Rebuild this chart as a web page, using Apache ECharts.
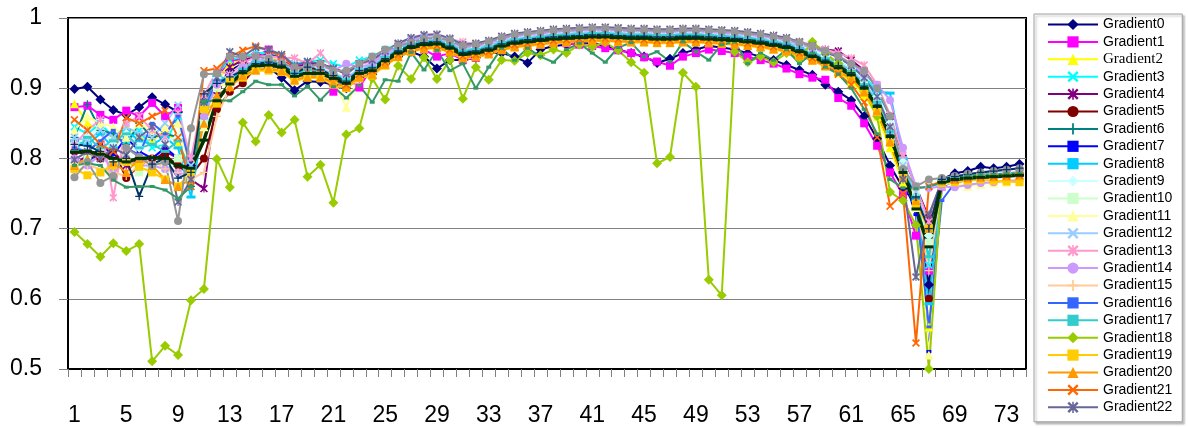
<!DOCTYPE html>
<html>
<head>
<meta charset="utf-8">
<script src="https://cdn.jsdelivr.net/npm/echarts@6/dist/echarts.min.js"></script>
<style>
  html, body { margin: 0; padding: 0; background: #fff; }
  #chart { width: 1188px; height: 428px; }
</style>
</head>
<body>
<div id="chart"></div>
<script>
// x categories 1..74
var categories = [];
for (var i = 1; i <= 74; i++) categories.push(String(i));

var yTicks = [0.5, 0.6, 0.7, 0.8, 0.9, 1];

var gradient0 = [0.899,0.902,0.884,0.869,0.862,0.873,0.887,0.877,0.866,0.790,0.870,0.900,
  0.925,0.935,0.935,0.930,0.915,0.897,0.910,0.909,0.905,0.900,0.915,0.920,0.935,0.945,0.952,0.945,0.928,0.940,
  0.940,0.943,0.950,0.950,0.945,0.936,0.955,0.960,0.962,0.965,0.964,0.960,0.955,0.950,0.945,0.936,0.942,0.950,
  0.955,0.960,0.958,0.955,0.950,0.945,0.940,0.933,0.926,0.919,0.905,0.895,
  0.883,0.860,0.828,0.790,0.758,0.735,0.620,0.770,0.779,0.782,0.788,0.786,0.788,0.792];
var gradient1 = [0.873,0.875,0.862,0.855,0.868,0.860,0.879,0.860,0.872,0.780,0.850,0.915,
  0.940,0.940,0.945,0.955,0.940,0.930,0.930,0.928,0.895,0.915,0.901,0.930,0.940,0.955,0.960,0.955,0.945,0.950,
  0.940,0.943,0.952,0.958,0.960,0.960,0.965,0.966,0.964,0.962,0.960,0.957,0.954,0.950,0.944,0.938,0.932,0.945,
  0.950,0.955,0.953,0.950,0.945,0.940,0.935,0.928,0.920,0.915,0.912,0.886,
  0.875,0.850,0.818,0.780,0.748,0.690,0.640,0.760,0.770,0.773,0.775,0.777,0.779,0.780];
var gradient2 = [0.878,0.850,0.840,0.830,0.845,0.830,0.825,0.840,0.820,0.780,0.860,0.910,
  0.935,0.940,0.945,0.945,0.940,0.925,0.930,0.930,0.920,0.910,0.925,0.930,0.945,0.955,0.962,0.965,0.965,0.960,
  0.952,0.955,0.958,0.963,0.967,0.968,0.970,0.972,0.973,0.975,0.976,0.976,0.975,0.974,0.973,0.972,0.972,0.973,
  0.973,0.972,0.971,0.970,0.968,0.966,0.962,0.958,0.950,0.942,0.932,0.922,
  0.910,0.890,0.860,0.815,0.765,0.740,0.560,0.765,0.770,0.772,0.774,0.775,0.776,0.777];
var gradient3 = [0.845,0.835,0.850,0.830,0.825,0.840,0.815,0.820,0.860,0.790,0.880,0.920,
  0.940,0.945,0.950,0.950,0.945,0.935,0.938,0.940,0.935,0.930,0.940,0.945,0.955,0.963,0.970,0.972,0.972,0.968,
  0.962,0.963,0.966,0.970,0.974,0.976,0.977,0.978,0.979,0.980,0.980,0.980,0.979,0.978,0.977,0.977,0.977,0.978,
  0.978,0.977,0.976,0.975,0.974,0.972,0.970,0.967,0.963,0.958,0.952,0.944,
  0.934,0.918,0.895,0.860,0.800,0.760,0.648,0.770,0.772,0.775,0.776,0.777,0.778,0.779];
var gradient4 = [0.790,0.805,0.800,0.810,0.790,0.800,0.795,0.810,0.800,0.770,0.757,0.890,
  0.930,0.940,0.945,0.948,0.943,0.930,0.935,0.935,0.928,0.922,0.935,0.940,0.952,0.960,0.967,0.970,0.970,0.966,
  0.958,0.960,0.963,0.968,0.972,0.974,0.976,0.977,0.978,0.979,0.980,0.980,0.979,0.978,0.978,0.977,0.977,0.978,
  0.978,0.978,0.977,0.976,0.975,0.973,0.971,0.968,0.965,0.960,0.955,0.953,
  0.940,0.925,0.900,0.860,0.800,0.760,0.715,0.768,0.772,0.774,0.776,0.777,0.779,0.780];
var gradient5 = [0.810,0.805,0.800,0.812,0.772,0.790,0.800,0.805,0.790,0.775,0.800,0.870,
  0.895,0.907,0.930,0.932,0.928,0.915,0.918,0.920,0.912,0.905,0.918,0.923,0.937,0.948,0.956,0.960,0.960,0.955,
  0.946,0.948,0.952,0.958,0.962,0.964,0.966,0.968,0.969,0.970,0.971,0.971,0.970,0.969,0.969,0.968,0.968,0.969,
  0.969,0.968,0.967,0.966,0.964,0.962,0.959,0.955,0.949,0.942,0.934,0.925,
  0.914,0.895,0.866,0.822,0.772,0.745,0.600,0.768,0.771,0.773,0.775,0.776,0.777,0.778];
var gradient6 = [0.830,0.877,0.840,0.835,0.820,0.850,0.830,0.835,0.830,0.760,0.880,0.915,
  0.912,0.925,0.938,0.936,0.934,0.920,0.926,0.924,0.918,0.912,0.925,0.930,0.942,0.955,0.962,0.966,0.966,0.962,
  0.952,0.955,0.958,0.964,0.968,0.970,0.972,0.974,0.975,0.976,0.977,0.977,0.976,0.975,0.975,0.974,0.974,0.975,
  0.975,0.974,0.973,0.972,0.970,0.968,0.965,0.962,0.956,0.949,0.941,0.933,
  0.922,0.903,0.876,0.832,0.780,0.750,0.700,0.770,0.773,0.775,0.776,0.777,0.778,0.779];
var gradient7 = [0.800,0.790,0.820,0.805,0.830,0.810,0.800,0.815,0.800,0.770,0.860,0.905,
  0.908,0.920,0.934,0.931,0.932,0.915,0.923,0.919,0.916,0.905,0.923,0.924,0.941,0.949,0.960,0.961,0.964,0.956,
  0.950,0.949,0.956,0.959,0.966,0.965,0.970,0.969,0.973,0.971,0.975,0.972,0.974,0.970,0.973,0.969,0.972,0.970,
  0.973,0.969,0.971,0.967,0.968,0.963,0.963,0.957,0.954,0.944,0.939,0.928,
  0.918,0.898,0.870,0.826,0.775,0.720,0.525,0.760,0.768,0.772,0.774,0.775,0.776,0.777];
var gradient8 = [0.825,0.820,0.835,0.815,0.840,0.825,0.820,0.830,0.815,0.745,0.855,0.910,
  0.915,0.928,0.938,0.940,0.936,0.924,0.928,0.927,0.921,0.914,0.928,0.932,0.946,0.957,0.965,0.968,0.969,0.964,
  0.955,0.957,0.960,0.966,0.970,0.972,0.974,0.976,0.977,0.978,0.979,0.979,0.978,0.977,0.977,0.976,0.976,0.977,
  0.977,0.976,0.975,0.974,0.972,0.970,0.967,0.964,0.958,0.952,0.945,0.938,
  0.928,0.910,0.895,0.893,0.800,0.740,0.593,0.770,0.772,0.774,0.775,0.776,0.777,0.778];
var gradient9 = [0.820,0.830,0.845,0.820,0.835,0.815,0.840,0.825,0.830,0.775,0.870,0.915,
  0.916,0.930,0.940,0.941,0.938,0.925,0.930,0.928,0.922,0.915,0.929,0.933,0.947,0.958,0.966,0.969,0.970,0.965,
  0.956,0.958,0.962,0.968,0.972,0.974,0.976,0.978,0.979,0.980,0.981,0.981,0.980,0.979,0.979,0.978,0.978,0.979,
  0.979,0.978,0.977,0.976,0.974,0.972,0.969,0.966,0.960,0.954,0.946,0.938,
  0.928,0.912,0.888,0.850,0.795,0.755,0.690,0.770,0.773,0.775,0.777,0.778,0.779,0.780];
var gradient10 = [0.790,0.800,0.780,0.795,0.800,0.780,0.790,0.785,0.800,0.770,0.850,0.900,
  0.912,0.928,0.937,0.939,0.936,0.923,0.928,0.926,0.920,0.913,0.927,0.931,0.945,0.956,0.964,0.967,0.968,0.963,
  0.954,0.956,0.960,0.966,0.970,0.972,0.974,0.976,0.977,0.978,0.979,0.979,0.978,0.977,0.977,0.976,0.976,0.977,
  0.977,0.976,0.975,0.974,0.972,0.970,0.967,0.964,0.958,0.951,0.943,0.935,
  0.925,0.906,0.880,0.840,0.790,0.750,0.680,0.765,0.770,0.772,0.774,0.775,0.777,0.778];
var gradient11 = [0.840,0.860,0.850,0.845,0.830,0.850,0.840,0.845,0.850,0.780,0.845,0.905,
  0.905,0.920,0.930,0.932,0.928,0.915,0.918,0.919,0.912,0.873,0.919,0.923,0.937,0.948,0.956,0.960,0.961,0.955,
  0.946,0.948,0.952,0.958,0.962,0.964,0.966,0.968,0.969,0.970,0.971,0.971,0.970,0.969,0.969,0.968,0.968,0.969,
  0.969,0.968,0.967,0.966,0.964,0.962,0.959,0.956,0.950,0.943,0.935,0.927,
  0.917,0.898,0.872,0.828,0.772,0.730,0.520,0.762,0.766,0.760,0.763,0.765,0.766,0.768];
var gradient12 = [0.830,0.825,0.840,0.830,0.845,0.835,0.830,0.850,0.876,0.790,0.865,0.915,
  0.914,0.929,0.939,0.940,0.937,0.925,0.929,0.927,0.921,0.914,0.928,0.932,0.946,0.957,0.965,0.969,0.970,0.964,
  0.955,0.957,0.961,0.967,0.971,0.973,0.975,0.977,0.978,0.979,0.980,0.980,0.979,0.978,0.978,0.977,0.977,0.978,
  0.978,0.977,0.976,0.975,0.973,0.971,0.968,0.965,0.959,0.952,0.944,0.936,
  0.926,0.908,0.882,0.840,0.790,0.752,0.700,0.770,0.773,0.775,0.776,0.777,0.778,0.779];
var gradient13 = [0.820,0.840,0.855,0.744,0.850,0.860,0.840,0.830,0.865,0.800,0.890,0.925,
  0.920,0.935,0.945,0.946,0.943,0.943,0.935,0.950,0.928,0.920,0.934,0.938,0.952,0.963,0.971,0.975,0.976,0.970,
  0.966,0.963,0.967,0.973,0.977,0.979,0.981,0.983,0.984,0.985,0.986,0.986,0.985,0.984,0.984,0.983,0.983,0.984,
  0.984,0.983,0.982,0.981,0.979,0.977,0.975,0.971,0.966,0.962,0.955,0.950,
  0.943,0.933,0.905,0.862,0.805,0.760,0.710,0.765,0.770,0.772,0.774,0.776,0.777,0.778];
var gradient14 = [0.800,0.790,0.805,0.785,0.800,0.790,0.790,0.785,0.780,0.775,0.860,0.905,
  0.915,0.930,0.940,0.942,0.938,0.927,0.932,0.932,0.925,0.935,0.930,0.935,0.949,0.960,0.968,0.972,0.973,0.967,
  0.958,0.960,0.964,0.970,0.974,0.976,0.978,0.980,0.981,0.982,0.983,0.983,0.982,0.981,0.981,0.980,0.980,0.981,
  0.981,0.980,0.979,0.978,0.976,0.974,0.972,0.968,0.963,0.957,0.950,0.945,
  0.935,0.920,0.905,0.883,0.815,0.760,0.758,0.760,0.759,0.762,0.765,0.766,0.768,0.769];
var gradient15 = [0.780,0.790,0.785,0.780,0.775,0.790,0.800,0.785,0.780,0.770,0.780,0.860,
  0.900,0.918,0.928,0.930,0.927,0.914,0.918,0.918,0.911,0.904,0.918,0.922,0.936,0.947,0.955,0.959,0.960,0.954,
  0.945,0.947,0.951,0.957,0.961,0.963,0.965,0.967,0.968,0.969,0.970,0.970,0.969,0.968,0.968,0.967,0.967,0.968,
  0.968,0.967,0.966,0.965,0.963,0.961,0.958,0.955,0.949,0.942,0.934,0.926,
  0.916,0.897,0.870,0.826,0.775,0.735,0.640,0.765,0.768,0.770,0.772,0.773,0.775,0.776];
var gradient16 = [0.815,0.810,0.825,0.840,0.815,0.805,0.850,0.835,0.860,0.785,0.870,0.912,
  0.908,0.925,0.934,0.935,0.932,0.919,0.923,0.923,0.916,0.898,0.923,0.927,0.941,0.952,0.960,0.964,0.965,0.959,
  0.950,0.952,0.956,0.962,0.966,0.968,0.970,0.972,0.973,0.974,0.975,0.975,0.974,0.973,0.973,0.972,0.972,0.973,
  0.973,0.972,0.971,0.970,0.968,0.966,0.963,0.960,0.954,0.947,0.939,0.931,
  0.921,0.902,0.876,0.833,0.782,0.735,0.560,0.740,0.765,0.770,0.773,0.775,0.776,0.777];
var gradient17 = [0.810,0.830,0.815,0.825,0.835,0.815,0.820,0.810,0.825,0.780,0.875,0.918,
  0.911,0.927,0.937,0.938,0.935,0.922,0.926,0.926,0.919,0.912,0.926,0.930,0.944,0.955,0.963,0.967,0.968,0.962,
  0.953,0.955,0.959,0.965,0.969,0.971,0.973,0.975,0.976,0.977,0.978,0.978,0.977,0.976,0.976,0.975,0.975,0.976,
  0.976,0.975,0.974,0.973,0.971,0.969,0.966,0.963,0.957,0.950,0.942,0.934,
  0.924,0.905,0.880,0.838,0.786,0.745,0.660,0.770,0.772,0.774,0.776,0.777,0.778,0.779];
var gradient18 = [0.695,0.678,0.660,0.679,0.668,0.678,0.511,0.533,0.520,0.598,0.614,0.799,
  0.759,0.851,0.824,0.862,0.837,0.855,0.774,0.791,0.737,0.834,0.843,0.914,0.884,0.932,0.913,0.944,0.913,
  0.940,0.885,0.930,0.912,0.940,0.939,0.950,0.947,0.955,0.950,0.962,0.959,0.965,0.954,0.937,0.922,
  0.793,0.802,0.922,0.902,0.627,0.605,0.952,0.937,0.945,0.937,0.950,0.942,0.966,0.950,0.935,
  0.920,0.895,0.860,0.752,0.740,0.705,0.500,0.765,0.770,0.772,0.774,0.775,0.776,0.777];
var gradient19 = [0.785,0.776,0.780,0.790,0.795,0.788,0.780,0.770,0.760,0.780,0.870,0.878,
  0.910,0.915,0.925,0.925,0.923,0.910,0.915,0.914,0.905,0.900,0.914,0.918,0.932,0.944,0.952,0.956,0.957,0.951,
  0.942,0.944,0.948,0.954,0.958,0.960,0.962,0.964,0.965,0.966,0.967,0.967,0.966,0.965,0.965,0.964,0.964,0.965,
  0.965,0.964,0.963,0.962,0.960,0.958,0.955,0.952,0.946,0.939,0.931,0.923,
  0.912,0.893,0.866,0.822,0.772,0.735,0.700,0.765,0.766,0.768,0.770,0.768,0.767,0.766];
var gradient20 = [0.790,0.800,0.810,0.795,0.780,0.800,0.790,0.770,0.760,0.770,0.850,0.890,
  0.902,0.918,0.926,0.928,0.925,0.912,0.916,0.916,0.908,0.902,0.916,0.920,0.934,0.945,0.953,0.957,0.958,0.952,
  0.943,0.945,0.949,0.955,0.959,0.961,0.963,0.965,0.966,0.967,0.968,0.968,0.967,0.966,0.966,0.965,0.965,0.966,
  0.966,0.965,0.964,0.963,0.961,0.959,0.956,0.953,0.947,0.940,0.932,0.924,
  0.914,0.895,0.868,0.824,0.774,0.740,0.700,0.768,0.770,0.772,0.773,0.774,0.775,0.776];
var gradient21 = [0.855,0.840,0.820,0.810,0.858,0.850,0.860,0.868,0.830,0.760,0.925,0.928,
  0.945,0.954,0.960,0.954,0.945,0.930,0.925,0.928,0.915,0.905,0.920,0.925,0.937,0.948,0.956,0.960,0.961,0.955,
  0.946,0.948,0.952,0.958,0.962,0.964,0.966,0.968,0.969,0.970,0.971,0.971,0.970,0.969,0.969,0.968,0.968,0.969,
  0.969,0.968,0.967,0.966,0.964,0.962,0.959,0.956,0.950,0.943,0.932,0.920,
  0.905,0.880,0.830,0.732,0.750,0.537,0.760,0.768,0.770,0.772,0.773,0.774,0.775,0.776];
var gradient22 = [0.798,0.810,0.800,0.815,0.805,0.830,0.845,0.820,0.738,0.770,0.880,0.915,
  0.952,0.945,0.958,0.955,0.948,0.932,0.938,0.935,0.928,0.920,0.935,0.940,0.953,0.964,0.972,0.976,0.977,0.971,
  0.962,0.964,0.968,0.974,0.978,0.980,0.982,0.984,0.985,0.986,0.987,0.987,0.986,0.985,0.985,0.984,0.984,0.985,
  0.985,0.984,0.983,0.982,0.980,0.978,0.975,0.972,0.966,0.960,0.952,0.944,
  0.932,0.915,0.888,0.845,0.770,0.631,0.720,0.768,0.772,0.774,0.776,0.777,0.778,0.779];
var gradient23 = [0.773,0.795,0.765,0.775,0.815,0.802,0.790,0.795,0.711,0.843,0.920,0.921,
  0.945,0.945,0.945,0.942,0.935,0.930,0.930,0.935,0.925,0.925,0.935,0.945,0.955,0.960,0.965,0.970,0.972,0.968,
  0.960,0.962,0.966,0.972,0.976,0.978,0.980,0.982,0.983,0.984,0.985,0.985,0.984,0.983,0.983,0.982,0.982,0.983,
  0.983,0.982,0.981,0.980,0.978,0.976,0.973,0.970,0.965,0.960,0.953,0.946,
  0.935,0.925,0.900,0.860,0.785,0.760,0.770,0.772,0.775,0.778,0.780,0.782,0.784,0.786];
var gradient24 = [0.820,0.818,0.810,0.795,0.800,0.746,0.792,0.800,0.772,0.780,0.892,0.907,
  0.916,0.925,0.935,0.937,0.933,0.921,0.930,0.926,0.918,0.910,0.925,0.929,0.942,0.953,0.961,0.965,0.966,0.960,
  0.951,0.953,0.957,0.963,0.967,0.969,0.971,0.973,0.974,0.975,0.976,0.976,0.975,0.974,0.974,0.973,0.973,0.974,
  0.974,0.973,0.972,0.971,0.969,0.967,0.964,0.961,0.955,0.948,0.940,0.932,
  0.922,0.903,0.876,0.833,0.780,0.745,0.700,0.770,0.774,0.777,0.780,0.782,0.784,0.786];
var gradient25 = [0.790,0.793,0.790,0.769,0.759,0.760,0.760,0.755,0.743,0.760,0.881,0.883,
  0.882,0.895,0.910,0.905,0.905,0.889,0.903,0.883,0.902,0.886,0.904,0.880,0.912,0.910,0.951,0.926,
  0.954,0.925,0.935,0.900,0.930,0.957,0.940,0.957,0.945,0.937,0.955,0.964,0.950,0.937,0.958,0.965,0.945,0.952,
  0.938,0.966,0.952,0.940,0.962,0.966,0.935,0.950,0.940,0.955,0.935,0.950,0.930,0.920,
  0.900,0.870,0.835,0.770,0.758,0.757,0.760,0.765,0.770,0.775,0.777,0.777,0.778,0.778];
var gradient26 = [0.809,0.810,0.806,0.800,0.795,0.800,0.801,0.800,0.790,0.786,0.826,0.882,
  0.906,0.922,0.932,0.933,0.930,0.917,0.921,0.921,0.914,0.907,0.921,0.925,0.939,0.950,0.958,0.962,0.963,0.957,
  0.948,0.950,0.954,0.960,0.964,0.966,0.968,0.970,0.971,0.972,0.973,0.973,0.972,0.971,0.971,0.970,0.970,0.971,
  0.971,0.970,0.969,0.968,0.966,0.964,0.961,0.958,0.952,0.945,0.937,0.929,
  0.919,0.900,0.874,0.831,0.780,0.728,0.674,0.766,0.770,0.772,0.773,0.774,0.775,0.776];

var allData = [gradient0, gradient1, gradient2, gradient3, gradient4, gradient5, gradient6,
  gradient7, gradient8, gradient9, gradient10, gradient11, gradient12, gradient13, gradient14,
  gradient15, gradient16, gradient17, gradient18, gradient19, gradient20, gradient21, gradient22,
  gradient23, gradient24, gradient25, gradient26];

var colors = ['#000080','#FF00FF','#FFFF00','#00FFFF','#800080','#800000','#008080',
  '#0000FF','#00CCFF','#CCFFFF','#CCFFCC','#FFFF99','#99CCFF','#FF99CC','#CC99FF',
  '#FFCC99','#3366FF','#33CCCC','#99CC00','#FFCC00','#FF9900','#FF6600','#666699',
  '#969696','#003366','#339966','#003300'];

var xMark = 'path://M0,1.5L1.5,0L5,3.5L8.5,0L10,1.5L6.5,5L10,8.5L8.5,10L5,6.5L1.5,10L0,8.5L3.5,5Z';
var starMark = 'path://M0,1.5L1.5,0L5,3.5L8.5,0L10,1.5L6.5,5L10,8.5L8.5,10L5,6.5L1.5,10L0,8.5L3.5,5Z M4.3,0L5.7,0L5.7,10L4.3,10Z';
var plusMark = 'path://M4.2,0H5.8V4.2H10V5.8H5.8V10H4.2V5.8H0V4.2H4.2Z';

// excel marker cycle
var markers = [
  ['diamond', 10], ['rect', 8], ['triangle', 9], [xMark, 8], [starMark, 8],
  ['circle', 8], [plusMark, 8], ['rect', [5, 3]], ['rect', [9, 3]]
];

var series = [];
var legendNames = [];
allData.forEach(function (d, k) {
  if (d.length !== categories.length) throw new Error('gradient' + k + ' has ' + d.length + ' values');
  var m = markers[k % markers.length];
  var name = 'Gradient' + k;
  if (k <= 22) {
    legendNames.push(k === 2 ? {name: name, textStyle: {fontFamily: 'Liberation Serif', fontSize: 15}} : name);
  }
  series.push({
    name: name,
    type: 'line',
    data: d,
    symbol: m[0],
    symbolSize: m[1],
    showAllSymbol: true,
    color: colors[k],
    lineStyle: {width: k === 26 ? 3.5 : 2, color: colors[k]},
    itemStyle: {color: colors[k]},
    emphasis: {disabled: true}
  });
});

var myChart = echarts.init(document.getElementById('chart'));
myChart.setOption({
  animation: false,
  backgroundColor: '#fff',
  textStyle: {fontFamily: 'Liberation Sans'},
  grid: {
    left: 68, right: 162, top: 18, bottom: 59,
    show: true, borderColor: '#000', borderWidth: 2, backgroundColor: '#fff'
  },
  legend: {
    orient: 'vertical',
    left: 1034, top: 14,
    padding: [3, 10, 7, 13],
    itemWidth: 50, itemHeight: 14, itemGap: 2.4,
    backgroundColor: '#fff',
    borderColor: '#a0a0a0', borderWidth: 1,
    shadowColor: 'rgba(0,0,0,0.25)', shadowOffsetX: 2, shadowOffsetY: 2, shadowBlur: 2,
    textStyle: {fontSize: 14, lineHeight: 15, color: '#000', fontFamily: 'Liberation Sans'},
    data: legendNames,
    selectedMode: false
  },
  xAxis: {
    type: 'category',
    data: categories,
    boundaryGap: true,
    axisLine: {lineStyle: {color: '#000', width: 2}},
    axisTick: {show: true, interval: 0, length: 8, lineStyle: {color: '#808080'}},
    axisLabel: {interval: 3, fontSize: 23, color: '#000', margin: 35},
    splitLine: {show: false}
  },
  yAxis: {
    type: 'value',
    min: yTicks[0], max: yTicks[yTicks.length - 1], interval: 0.1,
    axisLine: {show: true, lineStyle: {color: '#000', width: 2}},
    axisTick: {show: true, length: 9, lineStyle: {color: '#808080'}},
    axisLabel: {fontSize: 23, color: '#000', margin: 26},
    splitLine: {show: true, lineStyle: {color: '#808080', width: 1}}
  },
  series: series
});
</script>
</body>
</html>
